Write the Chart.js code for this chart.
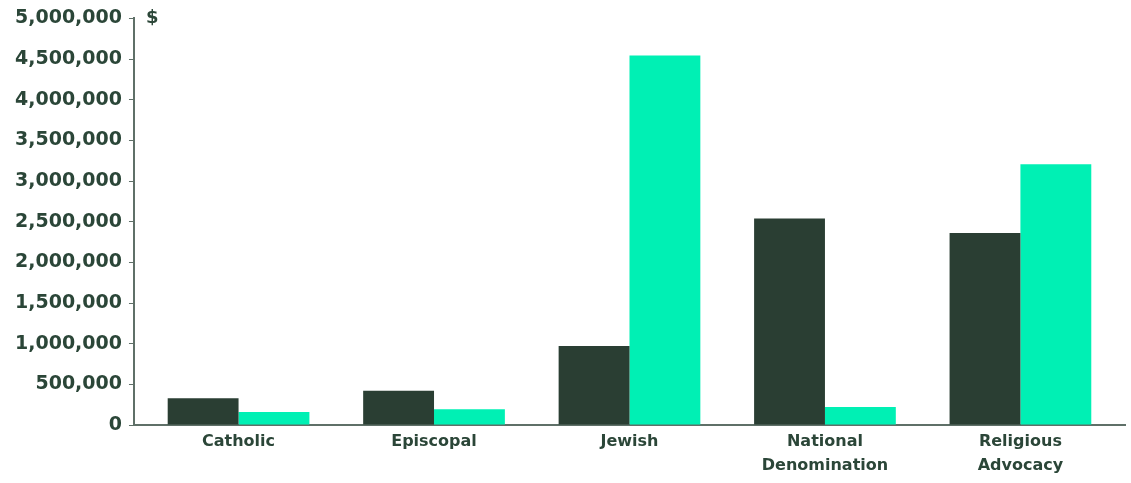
<!DOCTYPE html>
<html>
<head>
<meta charset="utf-8">
<script src="https://cdn.jsdelivr.net/npm/chart.js@4/dist/chart.umd.min.js"></script>
<style>
  html, body { margin: 0; padding: 0; background: #ffffff; }
  #wrap { width: 1131px; height: 483px; }
</style>
</head>
<body>
<div id="wrap"><canvas id="chart"></canvas></div>
<script>
// Categories and values (dollars)
const categories = ['Catholic', 'Episcopal', 'Jewish', ['National', 'Denomination'], ['Religious', 'Advocacy']];
const seriesDark = [330000, 420000, 970000, 2540000, 2360000];
const seriesTeal = [160000, 195000, 4545000, 220000, 3205000];
const yTicks = [0, 500000, 1000000, 1500000, 2000000, 2500000, 3000000, 3500000, 4000000, 4500000, 5000000];

const textColor = '#2b4638';
const axisColor = '#5f7068';

// Draws the "$" unit next to the top of the y axis
const unitLabel = {
    id: 'unitLabel',
    afterDraw(chart) {
        const ctx = chart.ctx;
        const y = chart.scales.y;
        ctx.save();
        ctx.fillStyle = textColor;
        ctx.font = 'bold 18px "DejaVu Sans"';
        ctx.textAlign = 'left';
        ctx.textBaseline = 'middle';
        ctx.fillText('$', y.right + 12, y.getPixelForValue(yTicks[yTicks.length - 1]));
        ctx.restore();
    }
};

const config = {
    type: 'bar',
    data: {
        labels: categories,
        datasets: [{
            label: 'Series 1',
            data: seriesDark,
            backgroundColor: '#2a3e33',
            categoryPercentage: 0.725,
            barPercentage: 1.0
        }, {
            label: 'Series 2',
            data: seriesTeal,
            backgroundColor: '#00f0b4',
            categoryPercentage: 0.725,
            barPercentage: 1.0
        }]
    },
    options: {
        responsive: true,
        maintainAspectRatio: false,
        animation: false,
        layout: { padding: { top: 8, right: 6, left: 8, bottom: 0 } },
        plugins: {
            legend: { display: false },
            tooltip: { enabled: false }
        },
        scales: {
            x: {
                // a little extra room at both ends of the category axis
                afterBuildTicks(scale) {
                    scale._startValue -= 0.035;
                    scale._valueRange += 0.07;
                },
                grid: { display: false, drawTicks: false },
                border: { display: true, color: axisColor, width: 2 },
                ticks: {
                    color: textColor,
                    font: { family: 'DejaVu Sans', size: 16, weight: 'bold', lineHeight: 1.5 },
                    padding: 5,
                    maxRotation: 0
                }
            },
            y: {
                min: 0,
                max: yTicks[yTicks.length - 1],
                afterBuildTicks(scale) {
                    scale.ticks = yTicks.map(v => ({ value: v }));
                },
                grid: { drawOnChartArea: false, tickLength: 5, color: axisColor, width: 2 },
                border: { display: true, color: axisColor, width: 2 },
                ticks: {
                    color: textColor,
                    font: { family: 'DejaVu Sans', size: 19, weight: 'bold' },
                    padding: 7,
                    callback: v => v.toLocaleString('en-US')
                }
            }
        }
    },
    plugins: [unitLabel]
};

new Chart(document.getElementById('chart'), config);
</script>
</body>
</html>
